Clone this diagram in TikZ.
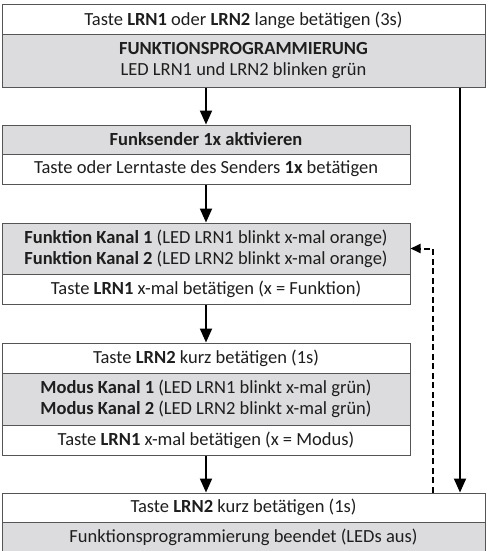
\documentclass[tikz,border=0pt]{standalone}
\usepackage{fontspec}
\setmainfont{Carlito}
\usetikzlibrary{arrows.meta}
\definecolor{shade}{RGB}{220,220,222}
\definecolor{boxline}{RGB}{85,85,85}
\definecolor{txt}{RGB}{30,30,30}
\begin{document}
\begin{tikzpicture}[x=1pt,y=-1pt,
  row/.style={draw=boxline, line width=1pt, inner sep=0pt, text=txt, align=center,
    font=\fontsize{18.5}{21}\selectfont},
  wide/.style={minimum width=483pt},
  narrow/.style={minimum width=408pt},
  shaded/.style={fill=shade},
  plain/.style={fill=white},
  flow/.style={line width=2pt, -{Triangle[length=14pt,width=12pt]}},
  back/.style={line width=2pt, dash pattern=on 6pt off 3.5pt, -{Triangle[length=10pt,width=9pt]}}]
\useasboundingbox (0,0) rectangle (487,551);

% block 1: start of programming
\node[row,wide,plain,minimum height=30pt] (a1) at (243.5,20) {Taste \textbf{LRN1} oder \textbf{LRN2} lange betätigen (3s)};
\node[row,wide,shaded,minimum height=52pt] (a2) at (243.5,61) {\textbf{FUNKTIONSPROGRAMMIERUNG}\\LED LRN1 und LRN2 blinken grün};

% block 2: transmitter
\node[row,narrow,shaded,minimum height=29pt] (b1) at (206,139.5) {\textbf{Funksender 1x aktivieren}};
\node[row,narrow,plain,minimum height=30pt] (b2) at (206,169) {Taste oder Lerntaste des Senders \textbf{1x} betätigen};

% block 3: function selection
\node[row,narrow,shaded,minimum height=51pt] (c1) at (206,248.5) {\textbf{Funktion Kanal 1} (LED LRN1 blinkt x-mal orange)\\\textbf{Funktion Kanal 2} (LED LRN2 blinkt x-mal orange)};
\node[row,narrow,plain,minimum height=30pt] (c2) at (206,289) {Taste \textbf{LRN1} x-mal betätigen (x = Funktion)};

% block 4: mode selection
\node[row,narrow,plain,minimum height=30pt] (d1) at (206,358) {Taste \textbf{LRN2} kurz betätigen (1s)};
\node[row,narrow,shaded,minimum height=52pt] (d2) at (206,399) {\textbf{Modus Kanal 1} (LED LRN1 blinkt x-mal grün)\\\textbf{Modus Kanal 2} (LED LRN2 blinkt x-mal grün)};
\node[row,narrow,plain,minimum height=30pt] (d3) at (206,440) {Taste \textbf{LRN1} x-mal betätigen (x = Modus)};

% block 5: end
\node[row,wide,plain,minimum height=29pt] (e1) at (243.5,507.5) {Taste \textbf{LRN2} kurz betätigen (1s)};
\node[row,wide,shaded,minimum height=30pt] (e2) at (243.5,537) {Funktionsprogrammierung beendet (LEDs aus)};

% connectors
\coordinate (skip) at (460,0);
\coordinate (loop) at (433,0);
\draw[flow] (a2.south -| b1.north) -- (b1.north);
\draw[flow] (b2.south) -- (c1.north);
\draw[flow] (c2.south) -- (d1.north);
\draw[flow] (d3.south) -- (d3.south |- e1.north);
\draw[flow] (a2.south -| skip) -- (e1.north -| skip);
\draw[back] (e1.north -| loop) |- (c1.east);
\end{tikzpicture}
\end{document}
